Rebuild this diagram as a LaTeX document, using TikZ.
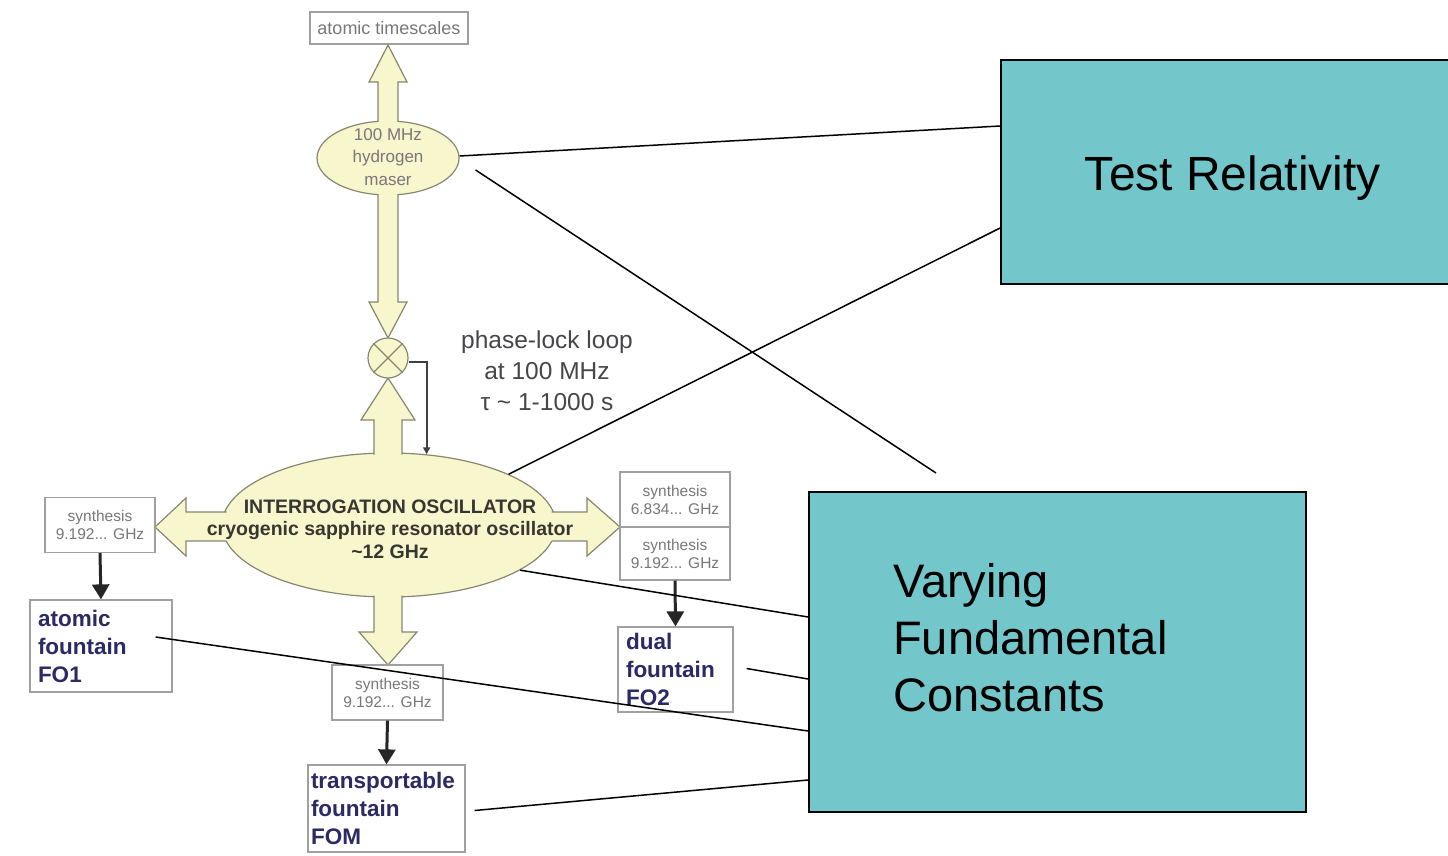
\documentclass[tikz,border=0pt]{standalone}
\usepackage{fontspec}
\setmainfont{Liberation Sans}
\usetikzlibrary{arrows.meta,shapes.geometric}
\definecolor{tealfill}{RGB}{115,198,202}
\definecolor{cream}{RGB}{248,246,204}
\definecolor{olive}{RGB}{135,135,112}
\definecolor{boxgray}{RGB}{160,160,160}
\definecolor{txtgray}{RGB}{120,120,120}
\definecolor{navy}{RGB}{42,42,100}
\definecolor{osctext}{RGB}{55,55,50}
\definecolor{plltext}{RGB}{70,70,75}
\begin{document}
\begin{tikzpicture}[x=1pt,y=-1pt,
  tealbox/.style={draw=black,line width=1.8pt,fill=tealfill,rectangle,inner sep=0pt},
  conn/.style={black,line width=1.5pt},
  hollowline/.style={draw=olive,line width=1.2pt,line join=miter},
  synbox/.style={draw=boxgray,line width=1.2pt,fill=white,minimum width=110pt,minimum height=55pt,inner sep=0pt,align=center,text=txtgray,font=\fontsize{15.5}{18}\selectfont},
  fountbox/.style={draw=boxgray,line width=1.2pt,fill=white,minimum height=88pt,inner xsep=8pt,inner ysep=0pt,align=left,text=navy,font=\bfseries\fontsize{22.5}{28}\selectfont},
  blackarrow/.style={draw=black!85,line width=3pt,-{Triangle[width=17pt,length=15pt]}},
  ovalnode/.style={ellipse,draw=olive,fill=cream,line width=1.2pt,inner sep=0pt}
]
\useasboundingbox (0,0) rectangle (1448,856);
\clip (0,0) rectangle (1448,856);
\fill[white] (0,0) rectangle (1448,856);

% ---------- top part ----------
\node[draw=boxgray,line width=1.2pt,fill=white,minimum width=158pt,minimum height=32pt,inner sep=0pt,text=txtgray,font=\fontsize{18}{18}\selectfont] (ats) at (389,28) {atomic timescales};

\node[ovalnode,minimum width=142pt,minimum height=74pt] (maser) at (388,158) {};
\node[align=center,text=txtgray,font=\fontsize{17}{22.5}\selectfont,inner sep=0pt] (masert) at (388,157) {100 MHz\\hydrogen\\maser};

% hollow arrow maser -> atomic timescales
\fill[cream] (378,126) -- (378,82) -- (369,82) -- (388,45) -- (407,82) -- (398,82) -- (398,126) -- cycle;
\draw[hollowline] (378,122) -- (378,82) -- (369,82) -- (388,45) -- (407,82) -- (398,82) -- (398,122);

% hollow arrow maser -> mixer
\fill[cream] (378,190) -- (378,302) -- (369,302) -- (388,338) -- (407,302) -- (398,302) -- (398,190) -- cycle;
\draw[hollowline] (378,194) -- (378,302) -- (369,302) -- (388,338) -- (407,302) -- (398,302) -- (398,194);

% ---------- oscillator ----------
\node[ovalnode,minimum width=334pt,minimum height=144pt] (osc) at (389,525) {};

% up to mixer
\fill[cream] (374,458) -- (374,420) -- (361,420) -- (388,378) -- (415,420) -- (402,420) -- (402,458) -- cycle;
\draw[hollowline] (374,454.5) -- (374,420) -- (361,420) -- (388,378) -- (415,420) -- (402,420) -- (402,454.5);
% down to synthesis
\fill[cream] (374,592) -- (374,632) -- (359,632) -- (388,665) -- (417,632) -- (402,632) -- (402,592) -- cycle;
\draw[hollowline] (374,595.5) -- (374,632) -- (359,632) -- (388,665) -- (417,632) -- (402,632) -- (402,595.5);
% left
\fill[cream] (232,512) -- (186,512) -- (186,498) -- (155,527) -- (186,556) -- (186,541) -- (232,541) -- cycle;
\draw[hollowline] (226.5,512) -- (186,512) -- (186,498) -- (155,527) -- (186,556) -- (186,541) -- (226.5,541);
% right
\fill[cream] (546,512) -- (587,512) -- (587,498) -- (620,527) -- (587,556) -- (587,541) -- (546,541) -- cycle;
\draw[hollowline] (551.5,512) -- (587,512) -- (587,498) -- (620,527) -- (587,556) -- (587,541) -- (551.5,541);

\node[align=center,text=osctext,font=\bfseries\fontsize{19.5}{22.5}\selectfont,inner sep=0pt] (osct) at (390,529)
  {INTERROGATION OSCILLATOR\\cryogenic sapphire resonator oscillator\\\textasciitilde12 GHz};

% mixer
\node[circle,draw=olive,fill=cream,line width=1.2pt,minimum size=40pt,inner sep=0pt] (mix) at (388,358) {};
\draw[olive,line width=1.2pt] (mix.45) -- (mix.225) (mix.135) -- (mix.315);
\draw[black!75,line width=1.8pt,-{Triangle[width=7pt,length=7pt]}] ([yshift=-4pt]mix.east) -| (osc.62);

\node[align=center,text=plltext,font=\fontsize{24.5}{31}\selectfont,inner sep=0pt] (pll) at (547,371)
  {phase-lock loop\\at 100 MHz\\τ \textasciitilde{} 1-1000 s};

% ---------- synthesis and fountains ----------
\node[synbox] (s1) at (100,525) {synthesis\\9.192... GHz};
\node[synbox] (s2) at (675,499.5) {synthesis\\6.834... GHz};
\node[synbox,minimum height=53pt] (s3) at (675,553.5) {synthesis\\9.192... GHz};
\node[synbox,minimum width=111pt] (s4) at (387.5,692.5) {synthesis\\9.192... GHz};

\node[fountbox,text width=126pt,minimum height=92pt] (fo1) at (101,646) {atomic\\fountain\\FO1};
\node[fountbox,text width=99pt,minimum height=85pt] (fo2) at (675.5,669.5) {dual\\fountain\\FO2};
\node[fountbox,text width=151pt,inner xsep=3pt,minimum height=87pt] (fom) at (386.5,808.5) {transportable\\fountain\\FOM};

\draw[blackarrow] (s1.south) -- (fo1.north);
\draw[blackarrow] (s3.south) -- (fo2.north);
\draw[blackarrow] (s4.south) -- (fom.north);

% ---------- teal boxes ----------
\node[tealbox,minimum width=464pt,minimum height=224pt] (tr) at (1233,172) {};
\node[inner sep=0pt,font=\fontsize{48}{56}\selectfont] (trt) at (1233,178) {Test Relativity};
\node[tealbox,minimum width=497pt,minimum height=320pt] (vfc) at (1057.5,652) {};
\node[anchor=west,align=left,inner sep=0pt,font=\fontsize{47}{57}\selectfont] (vfct) at (893,638) {Varying\\Fundamental\\Constants};

% ---------- connectors ----------
\coordinate (free) at (936,473);
\draw[conn] ([yshift=2pt]maser.east) -- ([shift={(0,-46)}]tr.west);
\draw[conn] ([shift={(16,12)}]maser.east) -- (free);
\draw[conn] (osc.23) -- ([shift={(0,56)}]tr.west);
\draw[conn] (osc.-19) -- ([shift={(0,-35)}]vfc.west);
\draw[conn] ([shift={(13,-1)}]fo2.east) -- ([shift={(0,27)}]vfc.west);
\draw[conn] ([shift={(-17,-9)}]fo1.east) -- ([shift={(0,79)}]vfc.west);
\draw[conn] ([shift={(9,2)}]fom.east) -- ([shift={(0,128)}]vfc.west);
\end{tikzpicture}
\end{document}
